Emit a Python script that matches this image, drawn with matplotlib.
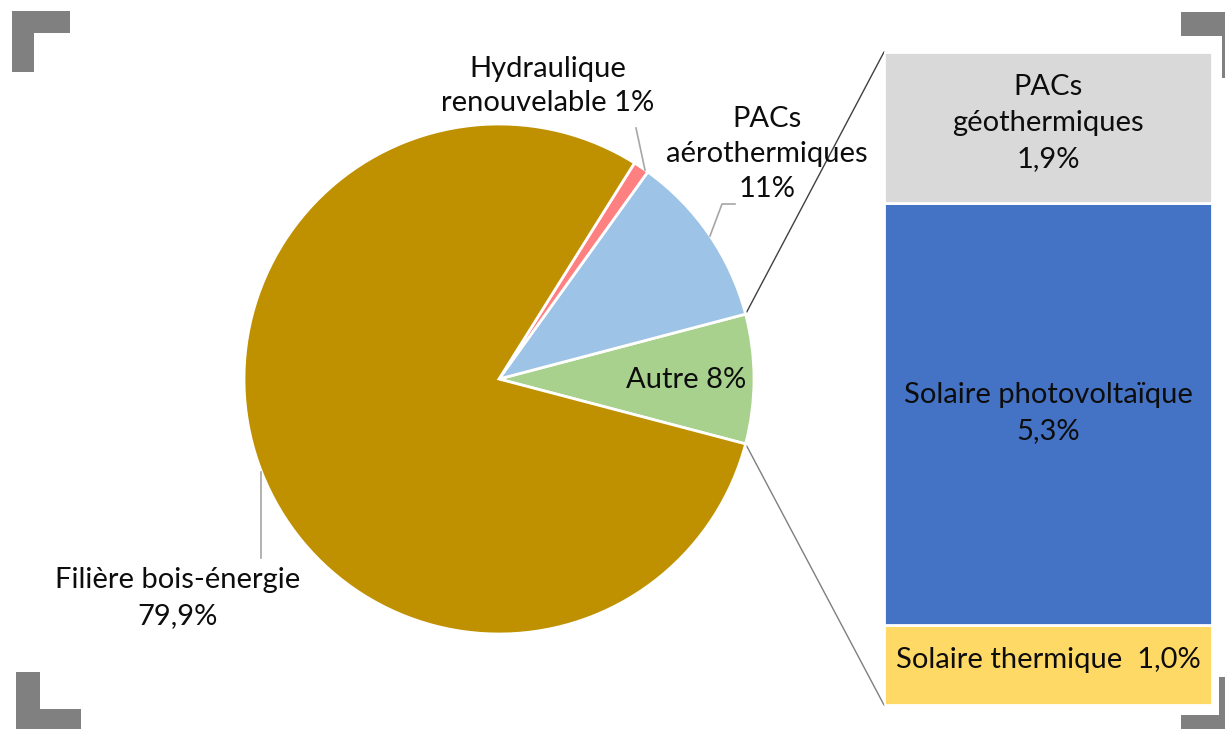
import matplotlib
matplotlib.use("Agg")
import matplotlib.pyplot as plt
from matplotlib.patches import Rectangle, ConnectionPatch
import numpy as np

plt.rcParams['font.family'] = ['Lato', 'DejaVu Sans']

# ---- data ----
pie_labels = ["Autre", "PACs aérothermiques", "Hydraulique renouvelable", "Filière bois-énergie"]
pie_values = [8.2, 11.0, 1.0, 79.9]
pie_colors = ["#A9D18E", "#9DC3E6", "#FF8080", "#BF9000"]

bar_labels = ["Solaire thermique", "Solaire photovoltaïque", "PACs géothermiques"]
bar_values = [1.0, 5.3, 1.9]
bar_colors = ["#FFD966", "#4472C4", "#D9D9D9"]

W, H = 1225, 729
fig = plt.figure(figsize=(W / 100, H / 100), dpi=100)
ax = fig.add_axes([0, 0, 1, 1])
ax.set_zorder(3)
ax.patch.set_alpha(0)

def py(y):
    return H - y

cx, cy, R = 499, py(379), 255
start = -pie_values[0] / sum(pie_values) * 360 / 2
wedges, _ = ax.pie(pie_values, colors=pie_colors, startangle=start, counterclock=True,
                   center=(cx, cy), radius=R, frame=True,
                   wedgeprops=dict(edgecolor='white', linewidth=2))
ax.set_xlim(0, W)
ax.set_ylim(0, H)
ax.set_aspect('equal')
ax.axis('off')

# ---- bar of pie ----
bx0, bx1, by0, by1 = 884, 1212, 52, 705
ax2 = fig.add_axes([bx0 / W, (H - by1) / H, (bx1 - bx0) / W, (by1 - by0) / H])
ax2.set_zorder(1)
bottom = 0
for v, c in zip(bar_values, bar_colors):
    ax2.bar(0, v, bottom=bottom, width=1.0, color=c, edgecolor='white', linewidth=2)
    bottom += v
ax2.set_xlim(-0.5, 0.5)
ax2.set_ylim(0, sum(bar_values))
ax2.axis('off')

# connectors
w0 = wedges[0]
for th, yb, col in [(w0.theta2, sum(bar_values), '#404040'), (w0.theta1, 0, '#7F7F7F')]:
    p = (cx + R * np.cos(np.radians(th)), cy + R * np.sin(np.radians(th)))
    con = ConnectionPatch(xyA=p, coordsA=ax.transData, xyB=(-0.5, yb), coordsB=ax2.transData,
                          color=col, linewidth=1)
    fig.add_artist(con)

fs = 21
tc = '#0D0D0D'
ls = 1.5
# pie labels
ax.text(548, py(86), "Hydraulique\nrenouvelable 1%", ha='center', va='center', fontsize=fs, color=tc, linespacing=1.4)
ax.text(767, py(154), "PACs\naérothermiques\n11%", ha='center', va='center', fontsize=fs, color=tc, linespacing=1.45)
ax.text(178, py(598), "Filière bois-énergie\n79,9%", ha='center', va='center', fontsize=fs, color=tc, linespacing=1.45)
ax.text(686, py(380), "Autre 8%", ha='center', va='center', fontsize=fs, color=tc)

# leader lines
lc = '#A6A6A6'
ax.plot([636, 645], [py(128), py(170)], color=lc, lw=1.2)
ax.plot([735, 722, 710], [py(204), py(204), py(236)], color=lc, lw=1.2)
ax.plot([261, 261], [py(472), py(558)], color=lc, lw=1.2)

# bar labels
ax.text(1048, py(123), "PACs\ngéothermiques\n1,9%", ha='center', va='center', fontsize=fs, color=tc, linespacing=ls)
ax.text(1048, py(413), "Solaire photovoltaïque\n5,3%", ha='center', va='center', fontsize=fs, color=tc, linespacing=ls)
ax.text(1048, py(660), "Solaire thermique  1,0%", ha='center', va='center', fontsize=fs, color=tc)

# corner decorations
g = '#808080'
def rect(x0, y0, x1, y1):
    ax.add_patch(Rectangle((x0, py(y1)), x1 - x0, y1 - y0, color=g, lw=0, zorder=5, clip_on=False))
rect(12, 11, 70, 33); rect(12, 11, 34, 72)
rect(1181, 12, 1225, 36); rect(1222, 12, 1225, 78)
rect(16, 672, 40, 729); rect(16, 709, 81, 729)
rect(1219, 677, 1225, 729); rect(1181, 715, 1225, 729)

fig.savefig("out.png", dpi=100)
